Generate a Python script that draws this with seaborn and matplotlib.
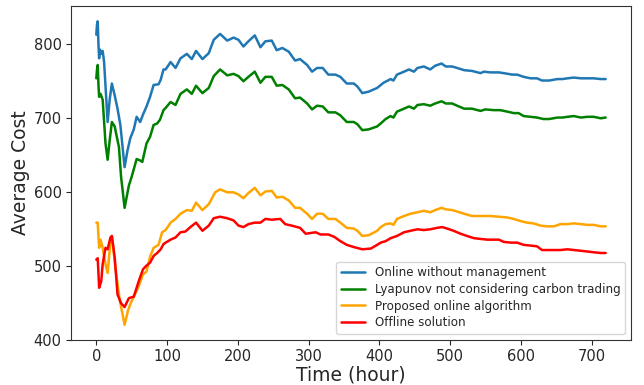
import numpy as np
import pandas as pd
import matplotlib
matplotlib.use('Agg')
import matplotlib.pyplot as plt
import seaborn as sns

names = ['Online without management',
         'Lyapunov not considering carbon trading',
         'Proposed online algorithm',
         'Offline solution']
colors = ['#1f77b4', 'green', 'orange', 'red']

# values (hour, average cost)
h_online = [0, 1, 2, 3, 4, 5, 7, 9, 11, 16, 19, 22, 26, 30, 34, 40, 44, 48, 53, 57,
            62, 66, 71, 76, 81, 88, 91, 95, 98, 105, 112, 119, 128, 135, 141, 150,
            159, 166, 175, 185, 194, 201, 208, 215, 224, 232, 239, 248, 255, 263,
            272, 281, 288, 298, 305, 312, 320, 328, 338, 345, 354, 364, 369, 376,
            385, 397, 406, 416, 420, 425, 435, 442, 449, 454, 463, 472, 479, 488,
            494, 503, 510, 520, 531, 543, 548, 557, 569, 576, 588, 595, 604, 614,
            623, 630, 640, 652, 659, 666, 675, 685, 694, 703, 713, 720]
c_online = [812, 826, 830, 800, 780, 792, 786, 790, 775, 694, 725, 746, 730, 712, 690,
            633, 655, 672, 684, 701, 694, 704, 715, 728, 744, 745, 751, 765, 765, 775,
            767, 780, 786, 779, 790, 779, 787, 805, 813, 804, 808, 805, 796, 803, 811,
            795, 803, 804, 791, 794, 789, 777, 779, 771, 762, 767, 767, 758, 758, 755,
            746, 746, 742, 733, 735, 740, 747, 752, 750, 758, 762, 765, 762, 767, 769,
            765, 770, 773, 769, 769, 767, 764, 763, 760, 762, 761, 761, 760, 758, 758,
            755, 753, 753, 750, 750, 752, 752, 753, 754, 753, 753, 753, 752, 752]

h_lyap = [0, 1, 2, 3, 4, 6, 9, 13, 16, 19, 22, 26, 32, 35, 40, 46, 50, 57, 62, 65, 71,
          76, 81, 86, 90, 95, 98, 105, 112, 119, 128, 135, 141, 150, 159, 166, 175,
          185, 194, 201, 208, 215, 224, 232, 239, 248, 255, 263, 272, 281, 288, 298,
          305, 312, 320, 328, 338, 345, 354, 364, 369, 376, 385, 397, 402, 409, 416,
          420, 425, 435, 442, 449, 454, 463, 472, 479, 488, 494, 503, 510, 520, 531,
          543, 550, 562, 571, 581, 590, 597, 604, 614, 623, 632, 640, 652, 659, 666,
          675, 685, 694, 703, 713, 720]
c_lyap = [753, 765, 771, 745, 728, 732, 724, 665, 643, 670, 694, 688, 660, 620, 578, 608,
          620, 644, 642, 640, 665, 674, 690, 692, 697, 710, 713, 721, 717, 732, 738, 732,
          743, 733, 740, 756, 765, 757, 759, 756, 749, 755, 762, 747, 755, 755, 743, 744,
          738, 726, 727, 719, 711, 716, 715, 707, 707, 703, 694, 694, 691, 683, 684, 688,
          692, 698, 702, 700, 708, 712, 715, 712, 717, 718, 716, 719, 722, 719, 719, 716,
          712, 712, 709, 711, 710, 710, 708, 706, 706, 702, 701, 700, 698, 698, 700, 700,
          701, 702, 700, 701, 701, 699, 700]

h_prop = [0, 2, 3, 4, 6, 9, 13, 16, 20, 22, 27, 33, 40, 45, 49, 53, 59, 66, 71, 76, 81,
          88, 93, 98, 105, 112, 119, 128, 135, 141, 150, 159, 168, 175, 185, 194, 201,
          208, 215, 224, 232, 239, 248, 255, 263, 272, 281, 288, 298, 305, 312, 320,
          328, 338, 345, 354, 364, 369, 376, 385, 397, 402, 409, 416, 420, 425, 435,
          444, 454, 463, 472, 479, 488, 494, 503, 510, 520, 531, 538, 548, 557, 569,
          581, 590, 600, 609, 618, 628, 637, 647, 656, 666, 675, 685, 694, 703, 713, 720]
c_prop = [558, 558, 540, 524, 535, 524, 502, 490, 533, 540, 497, 454, 420, 440, 450, 458,
          470, 488, 492, 512, 524, 528, 545, 548, 558, 563, 570, 575, 574, 585, 575, 583,
          599, 603, 599, 599, 596, 591, 598, 605, 595, 600, 601, 592, 593, 588, 578, 578,
          570, 563, 570, 570, 563, 563, 558, 551, 550, 547, 540, 541, 547, 552, 556, 557,
          555, 563, 567, 570, 572, 574, 572, 575, 578, 576, 575, 573, 570, 567, 567, 567,
          567, 566, 565, 563, 560, 558, 557, 554, 553, 553, 556, 556, 557, 556, 555, 555,
          553, 553]

h_off = [0, 2, 4, 7, 9, 13, 16, 20, 22, 26, 30, 35, 40, 46, 53, 60, 66, 71, 76, 81, 86,
         91, 95, 98, 105, 112, 119, 126, 133, 141, 150, 159, 166, 175, 185, 194, 201,
         208, 215, 224, 232, 239, 248, 260, 267, 276, 288, 296, 310, 317, 328, 336, 345,
         354, 364, 376, 388, 397, 402, 409, 416, 425, 435, 444, 454, 463, 472, 482, 489,
         496, 505, 515, 524, 534, 543, 553, 562, 569, 576, 586, 595, 604, 614, 623, 630,
         642, 656, 666, 675, 685, 694, 703, 713, 720]
c_off = [508, 510, 470, 479, 502, 524, 522, 538, 540, 511, 461, 449, 444, 456, 458, 479,
         495, 500, 504, 513, 517, 522, 529, 531, 535, 538, 545, 546, 552, 558, 547, 554,
         564, 566, 564, 561, 554, 552, 556, 558, 558, 563, 562, 563, 556, 554, 551, 543,
         545, 542, 542, 539, 533, 528, 525, 522, 523, 528, 531, 533, 537, 540, 545, 547,
         549, 548, 549, 551, 552, 550, 547, 543, 540, 537, 536, 535, 535, 535, 532, 531,
         531, 528, 527, 526, 521, 521, 521, 522, 521, 520, 519, 518, 517, 517]

frames = []
for name, h, c in zip(names, [h_online, h_lyap, h_prop, h_off],
                      [c_online, c_lyap, c_prop, c_off]):
    frames.append(pd.DataFrame({'hour': h, 'cost': c, 'method': name}))
df = pd.concat(frames, ignore_index=True)

sns.set_style('ticks')
plt.rcParams['font.family'] = ['DejaVu Sans']

fig = plt.figure(figsize=(6.44, 3.85), dpi=100)
ax = fig.add_axes([0.110, 0.117, 0.870, 0.867])
sns.lineplot(data=df, x='hour', y='cost', hue='method', hue_order=names,
             palette=dict(zip(names, colors)), linewidth=1.8, ax=ax)

ax.set_xticks([0, 100, 200, 300, 400, 500, 600, 700])
ax.set_yticks([400, 500, 600, 700, 800])
ax.tick_params(labelsize=10.5, direction='out', length=3.5, width=0.8, pad=3)
ax.set_xlabel('Time (hour)', fontsize=13.5, labelpad=1)
ax.set_ylabel('Average Cost', fontsize=13.5, labelpad=3)
for s in ax.spines.values():
    s.set_color('#333333')
    s.set_linewidth(0.8)
leg = ax.legend(loc='lower right', fontsize=8.6, title=None, frameon=True,
                labelspacing=0.3)

fig.savefig('out.png', dpi=100)
